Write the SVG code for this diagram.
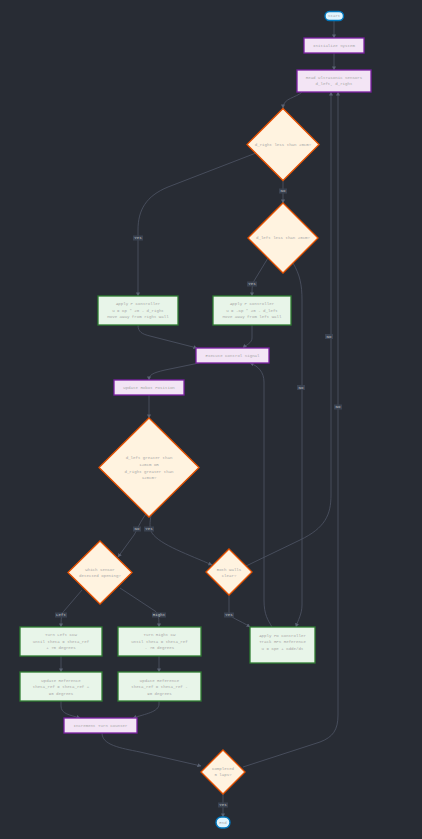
<svg xmlns="http://www.w3.org/2000/svg" width="422" height="839" viewBox="0 0 422 839">
  <style>
    .bg { fill: #282c34; }
    text { font-family: "Liberation Mono", "DejaVu Sans Mono", monospace; font-size: 4.1px; fill: #a8a8a8; text-anchor: middle; dominant-baseline: central; }
    .term { fill: #e1f5fe; stroke: #0277bd; stroke-width: 1.4; }
    .proc { fill: #f3e5f5; stroke: #7b1fa2; stroke-width: 1.3; }
    .dec { fill: #fff3e0; stroke: #e65100; stroke-width: 1.3; }
    .act { fill: #e8f5e9; stroke: #2e7d32; stroke-width: 1.3; }
    .edge { fill: none; stroke: #4f5666; stroke-width: 0.8; marker-end: url(#arrow); }
    .lbl rect { fill: #3a4250; }
    .lbl text { fill: #c8c8c8; }
  </style>
  <defs>
    <marker id="arrow" viewBox="0 0 10 10" refX="9" refY="5" markerWidth="4" markerHeight="4" markerUnits="userSpaceOnUse" orient="auto">
      <path d="M0,0 L10,5 L0,10 z" fill="#5a6272"/>
    </marker>
  </defs>
  <rect class="bg" x="0" y="0" width="422" height="839"/>

  <!-- connectors -->
  <g id="edges">
    <path class="edge" d="M334,21 L334,38"/>
    <path class="edge" d="M334,53 L334,70"/>
    <path class="edge" d="M302,92 C296,98 283,98 283,108"/>
    <path class="edge" d="M256,153 L168,187 C146,196 138,210 138,230 L138,296"/>
    <path class="edge" d="M283,181 L283,203"/>
    <path class="edge" d="M268,258 L254,281 C252,285 252,288 252,296"/>
    <path class="edge" d="M293,263 C300,275 302,285 302,300 L302,605 C302,614 298,620 296,627"/>
    <path class="edge" d="M138,325 C138,332 142,334 150,336 L197,348"/>
    <path class="edge" d="M252,325 L252,338 C252,343 246,345 243,348"/>
    <path class="edge" d="M272,627 C268,620 264,615 264,600 L264,382 C264,372 258,366 250,363"/>
    <path class="edge" d="M199,363 L165,370 C152,373 149,375 149,380"/>
    <path class="edge" d="M149,395 L149,418"/>
    <path class="edge" d="M146,514 C140,522 137,530 134,535 L118,557"/>
    <path class="edge" d="M151,515 C150,522 149,528 152,533 C160,545 190,555 212,565"/>
    <path class="edge" d="M82,590 L64,611 C62,613 61,615 61,627"/>
    <path class="edge" d="M120,588 L155,611 C158,613 159,615 159,627"/>
    <path class="edge" d="M229,595 L229,612 C229,618 240,620 250,627"/>
    <path class="edge" d="M246,566 L300,540 C325,528 331,515 331,495 L331,92"/>
    <path class="edge" d="M243,767 L320,742 C333,737 338,730 338,715 L338,92"/>
    <path class="edge" d="M61,656 L61,672"/>
    <path class="edge" d="M159,656 L159,672"/>
    <path class="edge" d="M61,701 L61,706 C61,714 70,715 80,718"/>
    <path class="edge" d="M159,701 L159,704 C159,712 145,714 133,718"/>
    <path class="edge" d="M102,733 C102,745 120,748 140,752 L201,766"/>
    <path class="edge" d="M223,794 L223,817"/>

    <!-- edge labels -->
    <g class="lbl"><rect x="279" y="188.5" width="8" height="5"/><text x="283" y="191">No</text></g>
    <g class="lbl"><rect x="133" y="235.5" width="10" height="5"/><text x="138" y="238">Yes</text></g>
    <g class="lbl"><rect x="247" y="281.5" width="10" height="5"/><text x="252" y="284">Yes</text></g>
    <g class="lbl"><rect x="325" y="334" width="8" height="5"/><text x="329" y="336.5">No</text></g>
    <g class="lbl"><rect x="297" y="385" width="8" height="5"/><text x="301" y="387.5">No</text></g>
    <g class="lbl"><rect x="334" y="404.5" width="8" height="5"/><text x="338" y="407">No</text></g>
    <g class="lbl"><rect x="133" y="526.5" width="8" height="5"/><text x="137" y="529">No</text></g>
    <g class="lbl"><rect x="144" y="526.5" width="10" height="5"/><text x="149" y="529">Yes</text></g>
    <g class="lbl"><rect x="55" y="612.5" width="12" height="5"/><text x="61" y="615">Left</text></g>
    <g class="lbl"><rect x="152" y="612.5" width="14" height="5"/><text x="159" y="615">Right</text></g>
    <g class="lbl"><rect x="224" y="612.5" width="10" height="5"/><text x="229" y="615">Yes</text></g>
    <g class="lbl"><rect x="218" y="802.5" width="10" height="5"/><text x="223" y="805">Yes</text></g>
  </g>

  <!-- nodes -->
  <g id="start">
    <rect class="term" x="325" y="11.5" width="18.5" height="9" rx="4.5"/>
    <text x="334.2" y="16">Start</text>
  </g>
  <g id="init">
    <rect class="proc" x="304" y="38" width="60" height="15"/>
    <text x="334" y="45.5">Initialize System</text>
  </g>
  <g id="read">
    <rect class="proc" x="297" y="70" width="74" height="22"/>
    <text x="334" y="77.7">Read Ultrasonic Sensors</text>
    <text x="334" y="84.4">d_left, d_right</text>
  </g>
  <g id="rightNear">
    <polygon class="dec" points="283,108.5 319,144.5 283,180.5 247,144.5"/>
    <text x="283" y="144.5">d_right less than 20cm?</text>
  </g>
  <g id="leftNear">
    <polygon class="dec" points="283,203 318,238 283,273 248,238"/>
    <text x="283" y="238">d_left less than 20cm?</text>
  </g>
  <g id="pRight">
    <rect class="act" x="98" y="296" width="80" height="29"/>
    <text x="138" y="304">Apply P Controller</text>
    <text x="138" y="310.7">u = Kp * 20 - d_right</text>
    <text x="138" y="317.4">Move away from right wall</text>
  </g>
  <g id="pLeft">
    <rect class="act" x="213" y="296" width="78" height="29"/>
    <text x="252" y="304">Apply P Controller</text>
    <text x="252" y="310.7">u = -Kp * 20 - d_left</text>
    <text x="252" y="317.4">Move away from left wall</text>
  </g>
  <g id="execute">
    <rect class="proc" x="196" y="348" width="73" height="15"/>
    <text x="232.5" y="355.5">Execute Control Signal</text>
  </g>
  <g id="updatePos">
    <rect class="proc" x="114" y="380" width="70" height="15"/>
    <text x="149" y="387.5">Update Robot Position</text>
  </g>
  <g id="opening">
    <polygon class="dec" points="149,418 199,467.5 149,517 99,467.5"/>
    <text x="149" y="458.3">d_left greater than</text>
    <text x="149" y="464.6">120cm OR</text>
    <text x="149" y="471.6">d_right greater than</text>
    <text x="149" y="478">120cm?</text>
  </g>
  <g id="whichSensor">
    <polygon class="dec" points="100,541 132,572.5 100,604 68,572.5"/>
    <text x="100" y="570">Which sensor</text>
    <text x="100" y="576.3">detected opening?</text>
  </g>
  <g id="bothClear">
    <polygon class="dec" points="229,549 252,572 229,595 206,572"/>
    <text x="229" y="569.5">Both walls</text>
    <text x="229" y="575.8">clear?</text>
  </g>
  <g id="turnLeft">
    <rect class="act" x="20" y="627" width="82" height="29"/>
    <text x="61" y="635">Turn Left CCW</text>
    <text x="61" y="641.7">until theta = theta_ref</text>
    <text x="61" y="648.4">+ 70 degrees</text>
  </g>
  <g id="turnRight">
    <rect class="act" x="118" y="627" width="83" height="29"/>
    <text x="159.5" y="635">Turn Right CW</text>
    <text x="159.5" y="641.7">until theta = theta_ref</text>
    <text x="159.5" y="648.4">- 70 degrees</text>
  </g>
  <g id="pd">
    <rect class="act" x="250" y="627" width="65" height="36"/>
    <text x="282.5" y="635.5">Apply PD Controller</text>
    <text x="282.5" y="642.2">Track RPS Reference</text>
    <text x="282.5" y="648.9">u = Kpe + Kdde/dt</text>
  </g>
  <g id="refLeft">
    <rect class="act" x="20" y="672" width="82" height="29"/>
    <text x="61" y="680.7">Update Reference</text>
    <text x="61" y="687.4">theta_ref = theta_ref +</text>
    <text x="61" y="694">90 degrees</text>
  </g>
  <g id="refRight">
    <rect class="act" x="118" y="672" width="83" height="29"/>
    <text x="159.5" y="680.7">Update Reference</text>
    <text x="159.5" y="687.4">theta_ref = theta_ref -</text>
    <text x="159.5" y="694">90 degrees</text>
  </g>
  <g id="increment">
    <rect class="proc" x="64" y="718" width="73" height="15"/>
    <text x="100.5" y="725.5">Increment Turn Counter</text>
  </g>
  <g id="laps">
    <polygon class="dec" points="223,750 245,772 223,794 201,772"/>
    <text x="223" y="768.5">Completed</text>
    <text x="223" y="775">5 laps?</text>
  </g>
  <g id="end">
    <rect class="term" x="216" y="817" width="14" height="11" rx="5.5"/>
    <text x="223" y="822.5">End</text>
  </g>
</svg>
